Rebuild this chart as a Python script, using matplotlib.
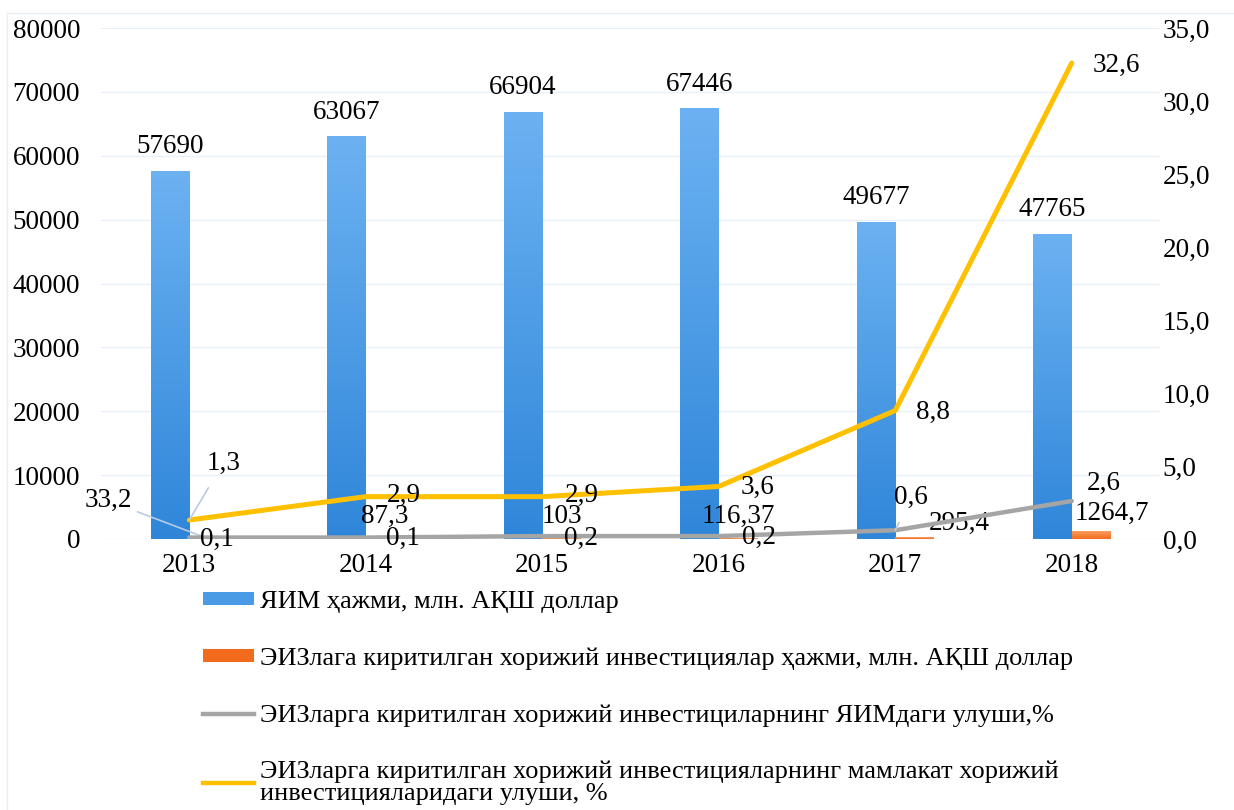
import numpy as np
import matplotlib.pyplot as plt
from matplotlib.colors import LinearSegmentedColormap
from matplotlib.patches import Patch
from matplotlib.lines import Line2D

plt.rcParams['font.family'] = ['Liberation Serif', 'DejaVu Serif']

years = ['2013', '2014', '2015', '2016', '2017', '2018']
yaim = [57690, 63067, 66904, 67446, 49677, 47765]
investitsiya = [33.2, 87.3, 103, 116.37, 295.4, 1264.7]
yaim_ulushi = [0.1, 0.1, 0.2, 0.2, 0.6, 2.6]
mamlakat_ulushi = [1.3, 2.9, 2.9, 3.6, 8.8, 32.6]

legend_labels = [
    'ЯИМ ҳажми, млн. АҚШ доллар',
    'ЭИЗлага киритилган хорижий инвестициялар ҳажми, млн. АҚШ доллар',
    'ЭИЗларга киритилган хорижий инвестициларнинг ЯИМдаги улуши,%',
    'ЭИЗларга киритилган хорижий инвестицияларнинг мамлакат хорижий\nинвестицияларидаги улуши, %',
]

# label offsets in pixels (dx, dy up) from each point
inv_offsets = [(-100, 38), (0, 22), (0, 22), (0, 22), (45, 14), (21, 18)]
gray_offsets = [(28, -2), (37, -1), (39, -2), (40, -1), (16, 33), (32, 18)]
yellow_offsets = [(34, 57), (38, 1), (39, 1), (39, -1), (38, -2), (45, -2)]

BLUE_TOP, BLUE_BOT = '#6cb2f2', '#2f86d9'
ORANGE_TOP, ORANGE_BOT = '#f9a468', '#f26a1b'
GRAY, YELLOW = '#a5a5a5', '#ffc000'
LEADER = '#b9cbe4'
FS = 19.5


def fmt(v):
    return f'{v:g}'.replace('.', ',')


def gradient_bars(ax, bars, top, bottom):
    cmap = LinearSegmentedColormap.from_list('g', [bottom, top])
    grad = np.linspace(0, 1, 256).reshape(-1, 1)
    for bar in bars:
        x0, y0 = bar.get_xy()
        w, h = bar.get_width(), bar.get_height()
        bar.set_facecolor('none')
        im = ax.imshow(grad, extent=[x0, x0 + w, y0, y0 + h], origin='lower',
                       aspect='auto', cmap=cmap, zorder=2)
        im.set_clip_path(bar)


fig = plt.figure(figsize=(12.34, 8.10), dpi=100)
ax = fig.add_axes([101 / 1234, 1 - 539 / 810, (1160 - 101) / 1234, 511 / 810])
ax2 = ax.twinx()

x = np.arange(len(years))
w = 0.218
b1 = ax.bar(x - w / 2, yaim, w, linewidth=0, zorder=2)
b2 = ax.bar(x + w / 2, investitsiya, w, linewidth=0, zorder=2)
gradient_bars(ax, b1, BLUE_TOP, BLUE_BOT)
gradient_bars(ax, b2, ORANGE_TOP, ORANGE_BOT)

ax.set_xlim(-0.5, len(years) - 0.5)
ax.set_ylim(0, 80000)
ax.set_yticks(np.arange(0, 80001, 10000))
ax.set_xticks(x)
ax.set_xticklabels(years)
ax.grid(axis='y', color='#e8f0fa', linewidth=1, zorder=0)
ax.set_axisbelow(True)
ax.tick_params(axis='y', length=0, pad=15, labelsize=FS)
ax.tick_params(axis='x', length=0, pad=10, labelsize=FS)
for s in ax.spines.values():
    s.set_visible(False)

ax2.plot(x, yaim_ulushi, color=GRAY, lw=3.2, solid_capstyle='round', zorder=3)
ax2.plot(x, mamlakat_ulushi, color=YELLOW, lw=3.6, solid_capstyle='round', zorder=3)
ax2.set_ylim(0, 35)
ax2.set_yticks(np.arange(0, 35.1, 5))
ax2.set_yticklabels([f'{v:.1f}'.replace('.', ',') for v in np.arange(0, 35.1, 5)])
ax2.tick_params(axis='y', length=0, pad=2, labelsize=FS)
for s in ax2.spines.values():
    s.set_visible(False)

# data labels
for i, v in enumerate(yaim):
    ax.annotate(str(v), (x[i] - w / 2, v), xytext=(0, 24), textcoords='offset pixels',
                ha='center', va='center', fontsize=FS)

for i, v in enumerate(investitsiya):
    arrow = dict(arrowstyle='-', color=LEADER, lw=1.2, shrinkA=2, shrinkB=0) if i == 0 else None
    ax.annotate(fmt(v), (x[i] + w / 2, v), xytext=inv_offsets[i], textcoords='offset pixels',
                ha='center', va='center', fontsize=FS, arrowprops=arrow, zorder=5)

for i, v in enumerate(yaim_ulushi):
    arrow = dict(arrowstyle='-', color=LEADER, lw=1.2, shrinkA=8, shrinkB=0) if i == 4 else None
    ax2.annotate(fmt(v), (x[i], v), xytext=gray_offsets[i], textcoords='offset pixels',
                 ha='center', va='center', fontsize=FS, arrowprops=arrow, zorder=5)

for i, v in enumerate(mamlakat_ulushi):
    arrow = dict(arrowstyle='-', color=LEADER, lw=1.2, shrinkA=8, shrinkB=0) if i == 0 else None
    ax2.annotate(fmt(v), (x[i], v), xytext=yellow_offsets[i], textcoords='offset pixels',
                 ha='center', va='center', fontsize=FS, arrowprops=arrow, zorder=5)

handles = [
    Patch(facecolor='#4a9be6', edgecolor='none'),
    Patch(facecolor=ORANGE_BOT, edgecolor='none'),
    Line2D([], [], color=GRAY, lw=3.2),
    Line2D([], [], color=YELLOW, lw=3.2),
]
leg = fig.legend(handles, legend_labels, loc='upper left', bbox_to_anchor=(203 / 1234, 1 - 591 / 810),
                 frameon=False, fontsize=19, handlelength=1.95, handleheight=0.35, handletextpad=0.2,
                 labelspacing=1.3, borderpad=0, borderaxespad=0)
for t in leg.get_texts():
    t.set_linespacing(0.95)

# faint chart border
fig.add_artist(Line2D([7 / 1234, 7 / 1234], [0, 1 - 13 / 810], color='#e6eef8', lw=1))
fig.add_artist(Line2D([7 / 1234, 1], [1 - 13 / 810, 1 - 13 / 810], color='#e6eef8', lw=1))

fig.savefig('out.png', dpi=100)
